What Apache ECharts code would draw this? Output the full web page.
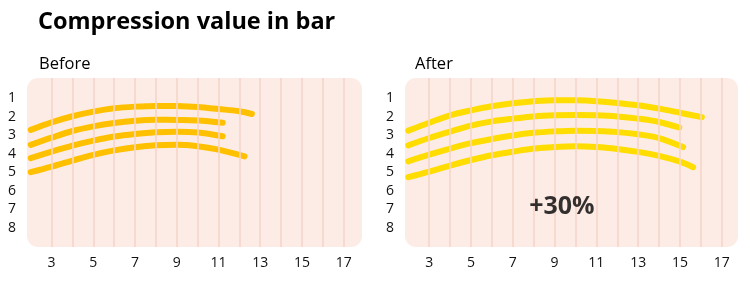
<!DOCTYPE html>
<html>
<head>
<meta charset="utf-8">
<script src="https://cdn.jsdelivr.net/npm/echarts@6/dist/echarts.min.js"></script>
<style>
html,body{margin:0;padding:0;background:#fff;}
#chart{width:750px;height:287px;}
</style>
</head>
<body>
<div id="chart"></div>
<script>
// ---- data ----
const xTickLabels = [3, 5, 7, 9, 11, 13, 15, 17];
const xGridValues = [3, 4, 5, 6, 7, 8, 9, 10, 11, 12, 13, 14, 15, 16, 17];
const yTickLabels = [1, 2, 3, 4, 5, 6, 7, 8];

const beforeLine1 = [[2,2.71],[3,2.30],[4,1.97],[5,1.72],[6,1.54],[7,1.45],[8,1.41],[9,1.42],[10,1.47],[11,1.58],[12,1.70],[12.6,1.85]];
const beforeLine2 = [[2,3.52],[3,3.13],[4,2.77],[5,2.52],[6,2.34],[7,2.22],[8,2.16],[9,2.17],[10,2.20],[11.2,2.32]];
const beforeLine3 = [[2,4.24],[3,3.89],[4,3.56],[5,3.29],[6,3.07],[7,2.93],[8,2.84],[9,2.81],[10,2.85],[11.2,3.05]];
const beforeLine4 = [[2,5.00],[3,4.70],[4,4.37],[5,4.06],[6,3.82],[7,3.65],[8,3.54],[9,3.51],[10,3.59],[11,3.78],[12.25,4.14]];

const afterLine1 = [[2,2.75],[3,2.32],[4,1.92],[5,1.65],[6,1.43],[7,1.27],[8,1.16],[9,1.10],[10,1.11],[11,1.16],[12,1.25],[13,1.38],[14,1.56],[15,1.78],[16.05,2.02]];
const afterLine2 = [[2,3.55],[3,3.15],[4,2.80],[5,2.48],[6,2.25],[7,2.10],[8,1.98],[9,1.92],[10,1.90],[11,1.92],[12,1.98],[13,2.10],[14,2.28],[14.97,2.58]];
const afterLine3 = [[2,4.41],[3,4.05],[4,3.72],[5,3.43],[6,3.20],[7,3.01],[8,2.87],[9,2.79],[10,2.75],[11,2.77],[12,2.83],[13,2.95],[14,3.15],[15.15,3.64]];
const afterLine4 = [[2,5.27],[3,4.97],[4,4.64],[5,4.34],[6,4.08],[7,3.89],[8,3.72],[9,3.63],[10,3.59],[11,3.63],[12,3.74],[13,3.90],[14,4.12],[15,4.43],[15.63,4.73]];

const annotationText = '+30%';
const annotationPos = [9.35, 6.86];

// ---- styles ----
const FONT = '"Open Sans", "Noto Sans", sans-serif';
const BG = '#FDECE5';
const GRIDLINE = '#F7D5C9';
const BEFORE_COLOR = '#FFC000';
const AFTER_COLOR = '#FFDD00';

const chart = echarts.init(document.getElementById('chart'), null, {renderer: 'canvas'});

function xAxisCfg(idx, min, max) {
  return {
    type: 'value', gridIndex: idx, min: min, max: max,
    axisLine: {show: false}, axisTick: {show: false}, splitLine: {show: false},
    axisLabel: {customValues: xTickLabels, color: '#111', fontSize: 14, fontFamily: FONT, margin: 9}
  };
}
function yAxisCfg(idx) {
  return {
    type: 'value', gridIndex: idx, inverse: true, min: -0.1, max: 9.05,
    axisLine: {show: false}, axisTick: {show: false}, splitLine: {show: false},
    axisLabel: {customValues: yTickLabels, color: '#111', fontSize: 14, fontFamily: FONT, margin: 11}
  };
}
function curve(data, idx, color) {
  return {
    type: 'line', xAxisIndex: idx, yAxisIndex: idx, data: data,
    smooth: 0.35, symbol: 'none', silent: true, z: 3,
    lineStyle: {color: color, width: 6, cap: 'round', join: 'round'}
  };
}
function gridLines(idx) {
  return {
    type: 'line', xAxisIndex: idx, yAxisIndex: idx, data: [], silent: true, z: 1,
    markLine: {
      silent: true, symbol: ['none', 'none'], label: {show: false},
      lineStyle: {color: GRIDLINE, width: 1.6, type: 'solid'},
      data: xGridValues.map(v => ({xAxis: v}))
    }
  };
}

const grids = [
  {left: 27, top: 78, width: 335, height: 169},
  {left: 405, top: 78, width: 333, height: 169}
];

const option = {
  animation: false,
  backgroundColor: '#fff',
  title: [
    {text: 'Compression value in bar', left: 38, top: 10, padding: 0, textStyle: {fontSize: 23.5, fontWeight: 'bold', fontFamily: FONT, color: '#000'}},
    {text: 'Before', left: 39, top: 56, padding: 0, textStyle: {fontSize: 16.5, fontWeight: 'normal', fontFamily: FONT, color: '#000'}},
    {text: 'After', left: 415, top: 56, padding: 0, textStyle: {fontSize: 16.5, fontWeight: 'normal', fontFamily: FONT, color: '#000'}}
  ],
  graphic: grids.map(g => ({
    type: 'rect', z: -10, silent: true,
    shape: {x: g.left, y: g.top, width: g.width, height: g.height, r: 11},
    style: {fill: BG}
  })),
  grid: grids,
  xAxis: [xAxisCfg(0, 1.82, 17.88), xAxisCfg(1, 1.84, 17.78)],
  yAxis: [yAxisCfg(0), yAxisCfg(1)],
  series: [
    gridLines(0), gridLines(1),
    curve(beforeLine1, 0, BEFORE_COLOR), curve(beforeLine2, 0, BEFORE_COLOR),
    curve(beforeLine3, 0, BEFORE_COLOR), curve(beforeLine4, 0, BEFORE_COLOR),
    curve(afterLine1, 1, AFTER_COLOR), curve(afterLine2, 1, AFTER_COLOR),
    curve(afterLine3, 1, AFTER_COLOR), curve(afterLine4, 1, AFTER_COLOR),
    {
      type: 'scatter', xAxisIndex: 1, yAxisIndex: 1, silent: true, symbolSize: 0,
      data: [annotationPos], z: 5,
      label: {show: true, position: 'inside', formatter: annotationText, fontSize: 25, fontWeight: 'bold', fontFamily: FONT, color: '#000'}
    }
  ]
};
chart.setOption(option);
</script>
</body>
</html>
